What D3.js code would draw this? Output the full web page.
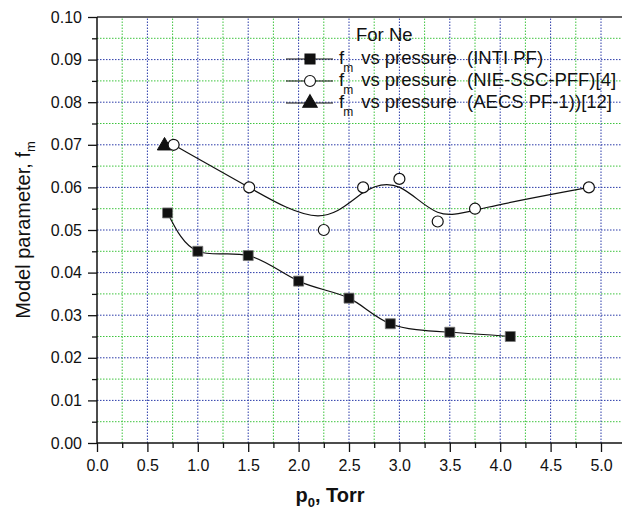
<!DOCTYPE html>
<html>
<head>
  <meta charset="utf-8">
  <script src="https://cdn.jsdelivr.net/npm/d3@7"></script>
  <style>
    body { margin: 0; background: #fff; }
    svg text { font-family: "Liberation Sans", Arial, Helvetica, sans-serif; }
  </style>
</head>
<body>
<script>
  // data (p0 in Torr, f_m)
  var intiP  = [0.70, 1.00, 1.50, 2.00, 2.50, 2.91, 3.50, 4.10];
  var intiF  = [0.054, 0.045, 0.044, 0.038, 0.034, 0.028, 0.026, 0.025];
  var nieP   = [0.76, 1.51, 2.25, 2.64, 3.00, 3.38, 3.75, 4.88];
  var nieF   = [0.070, 0.060, 0.050, 0.060, 0.062, 0.052, 0.055, 0.060];
  var aecsP  = [0.67];
  var aecsF  = [0.070];
  var xMajor = [0, 0.5, 1, 1.5, 2, 2.5, 3, 3.5, 4, 4.5, 5];
  var xMinor = [0.25, 0.75, 1.25, 1.75, 2.25, 2.75, 3.25, 3.75, 4.25, 4.75, 5.25];
  var yMajor = [0, 0.01, 0.02, 0.03, 0.04, 0.05, 0.06, 0.07, 0.08, 0.09, 0.10];
  var yMinor = [0.005, 0.015, 0.025, 0.035, 0.045, 0.055, 0.065, 0.075, 0.085, 0.095];
  var legendLabels = ["vs pressure  (INTI PF)", "vs pressure  (NIE-SSC-PFF)[4]", "vs pressure  (AECS PF-1))[12]"];

  var W = 622, H = 513;
  var svg = d3.select("body").append("svg").attr("width", W).attr("height", H);

  var x = d3.scaleLinear().domain([0, 5]).range([97, 601]);
  var y = d3.scaleLinear().domain([0, 0.10]).range([443, 17]);
  var xEnd = 640;

  // grid
  var grid = svg.append("g");
  grid.selectAll(".gxm").data(xMinor).enter().append("line")
    .attr("x1", d => x(d)).attr("x2", d => x(d)).attr("y1", y(0)).attr("y2", y(0.1))
    .attr("stroke", "#3ec43e").attr("stroke-width", 1).attr("stroke-dasharray", "1.5,1.5");
  grid.selectAll(".gym").data(yMinor).enter().append("line")
    .attr("x1", x(0)).attr("x2", xEnd).attr("y1", d => y(d)).attr("y2", d => y(d))
    .attr("stroke", "#3ec43e").attr("stroke-width", 1).attr("stroke-dasharray", "1.5,1.5");
  grid.selectAll(".gx").data(xMajor.slice(1)).enter().append("line")
    .attr("x1", d => x(d)).attr("x2", d => x(d)).attr("y1", y(0)).attr("y2", y(0.1))
    .attr("stroke", "#2a3aa8").attr("stroke-width", 1).attr("stroke-dasharray", "1.5,1.5");
  grid.selectAll(".gy").data(yMajor.slice(1, 10)).enter().append("line")
    .attr("x1", x(0)).attr("x2", xEnd).attr("y1", d => y(d)).attr("y2", d => y(d))
    .attr("stroke", "#2a3aa8").attr("stroke-width", 1).attr("stroke-dasharray", "1.5,1.5");

  // top frame line
  svg.append("line").attr("x1", x(0)).attr("x2", xEnd).attr("y1", y(0.1)).attr("y2", y(0.1))
    .attr("stroke", "#333").attr("stroke-width", 1.3);

  // axes
  function styleAxis(g) {
    g.select(".domain").remove();
    g.selectAll("line").attr("stroke", "#111").attr("stroke-width", 1.3);
    g.selectAll("text").attr("font-size", "16px").attr("fill", "#111");
  }
  var fmt1 = d3.format(".1f"), fmt2 = d3.format(".2f");
  svg.append("g").attr("transform", "translate(0," + y(0) + ")")
    .call(d3.axisBottom(x).tickValues(xMajor).tickFormat(fmt1).tickSize(9).tickPadding(8)).call(styleAxis);
  svg.append("g").attr("transform", "translate(0," + y(0) + ")")
    .call(d3.axisBottom(x).tickValues(xMinor).tickFormat("").tickSize(5)).call(styleAxis);
  svg.append("g").attr("transform", "translate(" + x(0) + ",0)")
    .call(d3.axisLeft(y).tickValues(yMajor).tickFormat(fmt2).tickSize(9).tickPadding(6)).call(styleAxis);
  svg.append("g").attr("transform", "translate(" + x(0) + ",0)")
    .call(d3.axisLeft(y).tickValues(yMinor).tickFormat("").tickSize(5)).call(styleAxis);

  svg.append("line").attr("x1", x(0)).attr("x2", xEnd).attr("y1", y(0)).attr("y2", y(0))
    .attr("stroke", "#111").attr("stroke-width", 1.5);
  svg.append("line").attr("x1", x(0)).attr("x2", x(0)).attr("y1", y(0)).attr("y2", y(0.1))
    .attr("stroke", "#111").attr("stroke-width", 1.5);

  // axis titles
  var xt = svg.append("text").attr("x", 330).attr("y", 502)
    .attr("text-anchor", "middle").attr("font-size", "20px").attr("font-weight", "bold").attr("fill", "#111");
  xt.append("tspan").text("p");
  xt.append("tspan").text("0").attr("font-size", "13px").attr("dy", 5);
  xt.append("tspan").text(", Torr").attr("dy", -5);

  var yt = svg.append("text").attr("transform", "translate(30," + (y(0) + y(0.1)) / 2 + ") rotate(-90)")
    .attr("text-anchor", "middle").attr("font-size", "20px").attr("fill", "#111");
  yt.append("tspan").text("Model parameter, f");
  yt.append("tspan").text("m").attr("font-size", "13px").attr("dy", 5);

  // series
  var pts = function (px, py) { return px.map((d, i) => [d, py[i]]); };
  var intiData = pts(intiP, intiF), nieData = pts(nieP, nieF), aecsData = pts(aecsP, aecsF);

  svg.append("path").datum(intiData)
    .attr("d", d3.line().x(d => x(d[0])).y(d => y(d[1])).curve(d3.curveNatural))
    .attr("fill", "none").attr("stroke", "#111").attr("stroke-width", 1.2);
  svg.append("path").datum(nieData)
    .attr("d", d3.line().x(d => x(d[0])).y(d => y(d[1])).curve(d3.curveBasis))
    .attr("fill", "none").attr("stroke", "#111").attr("stroke-width", 1.2);

  var sq = d3.symbol().type(d3.symbolSquare).size(100);
  var ci = d3.symbol().type(d3.symbolCircle).size(95);
  var tr = d3.symbol().type(d3.symbolTriangle).size(90);

  svg.selectAll(".tri").data(aecsData).enter().append("path")
    .attr("d", tr).attr("transform", d => "translate(" + x(d[0]) + "," + (y(d[1]) + 1) + ")")
    .attr("fill", "#111").attr("stroke", "#111");
  svg.selectAll(".sq").data(intiData).enter().append("path")
    .attr("d", sq).attr("transform", d => "translate(" + x(d[0]) + "," + y(d[1]) + ")")
    .attr("fill", "#111").attr("stroke", "#777").attr("stroke-width", 0.8);
  svg.selectAll(".ci").data(nieData).enter().append("path")
    .attr("d", ci).attr("transform", d => "translate(" + x(d[0]) + "," + y(d[1]) + ")")
    .attr("fill", "#fff").attr("stroke", "#111").attr("stroke-width", 1.2);

  // legend
  var leg = svg.append("g");
  leg.append("text").attr("x", 356).attr("y", 41).attr("font-size", "18.5px").attr("fill", "#111").text("For Ne");
  var symbols = [sq, ci, tr];
  var fills = ["#111", "#fff", "#111"];
  legendLabels.forEach(function (lab, i) {
    var cy = 59 + i * 22;
    leg.append("line").attr("x1", 286).attr("x2", 333).attr("y1", cy).attr("y2", cy)
      .attr("stroke", "#111").attr("stroke-width", 1.2);
    leg.append("path").attr("d", symbols[i]).attr("transform", "translate(310," + cy + ")")
      .attr("fill", fills[i]).attr("stroke", "#111").attr("stroke-width", 1.1);
    var t = leg.append("text").attr("x", 339).attr("y", cy + 5).attr("font-size", "18.5px").attr("fill", "#111");
    t.append("tspan").text("f");
    t.append("tspan").text("m").attr("font-size", "12px").attr("dy", 8).attr("dx", -1);
    t.append("tspan").text(lab).attr("dy", -8).attr("dx", 8).style("white-space", "pre");
  });
</script>
</body>
</html>
